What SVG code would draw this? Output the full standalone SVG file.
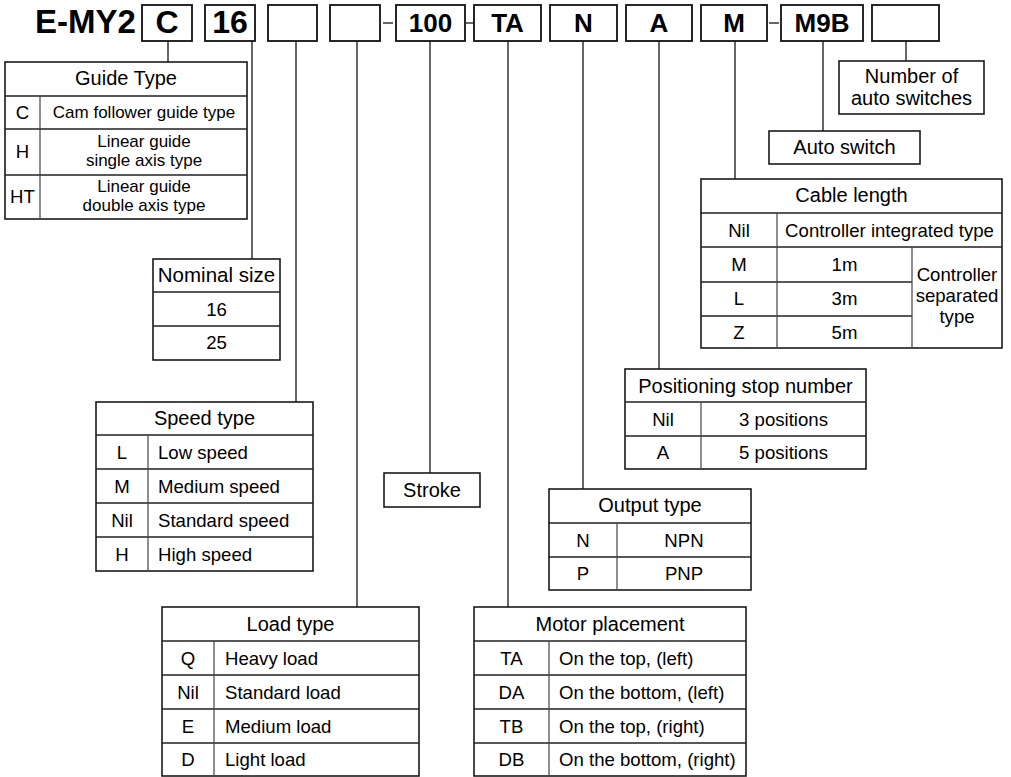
<svg xmlns="http://www.w3.org/2000/svg" width="1011" height="777" viewBox="0 0 1011 777">
<style>
text{font-family:"Liberation Sans",Arial,Helvetica,sans-serif;fill:#000}
.code{font-weight:bold;font-size:26px;text-anchor:middle}
.big{font-weight:bold;font-size:32px;text-anchor:middle}
.box{fill:#fff;stroke:#111;stroke-width:1.8}
.tb{fill:#fff;stroke:#1a1a1a;stroke-width:1.6}
.row{stroke:#222;stroke-width:1.4;fill:none}
.col{stroke:#444;stroke-width:1.2;fill:none}
.hd{font-size:20px;text-anchor:middle}
.b{font-size:18.6px}
.s{font-size:17px}
.c{text-anchor:middle}
.conn line{stroke:#333;stroke-width:1.5}
</style>
<rect width="1011" height="777" fill="#fff"/>

<g id="connectors" class="conn">
<line x1="168" y1="41" x2="168" y2="62"/>
<line x1="252" y1="41" x2="252" y2="259"/>
<line x1="296" y1="41" x2="296" y2="402"/>
<line x1="357" y1="41" x2="357" y2="607"/>
<line x1="430" y1="41" x2="430" y2="473"/>
<line x1="508" y1="41" x2="508" y2="607"/>
<line x1="583" y1="41" x2="583" y2="489"/>
<line x1="659" y1="41" x2="659" y2="369"/>
<line x1="735" y1="41" x2="735" y2="179"/>
<line x1="823" y1="41" x2="823" y2="131"/>
<line x1="906" y1="41" x2="906" y2="61"/>
<line x1="383" y1="23" x2="393" y2="23"/>
<line x1="466" y1="23" x2="474" y2="23"/>
<line x1="769" y1="23" x2="779" y2="23"/>
</g>

<g id="model">
<text x="35" y="33" style="font-weight:bold;font-size:33px">E-MY2</text>
</g>
<g id="box-c"><rect class="box" x="142" y="5" width="50" height="36"/><text class="big" x="167" y="33">C</text></g>
<g id="box-16"><rect class="box" x="205" y="5" width="50" height="36"/><text class="big" x="230" y="33">16</text></g>
<g id="box-speed"><rect class="box" x="268" y="5" width="49" height="36"/></g>
<g id="box-load"><rect class="box" x="330" y="5" width="50" height="36"/></g>
<g id="box-100"><rect class="box" x="396" y="5" width="69" height="36"/><text class="code" x="430.5" y="32">100</text></g>
<g id="box-ta"><rect class="box" x="474" y="5" width="67" height="36"/><text class="code" x="507.5" y="32">TA</text></g>
<g id="box-n"><rect class="box" x="550" y="5" width="67" height="36"/><text class="code" x="583.5" y="32">N</text></g>
<g id="box-a"><rect class="box" x="626" y="5" width="66" height="36"/><text class="code" x="659" y="32">A</text></g>
<g id="box-m"><rect class="box" x="701" y="5" width="66" height="36"/><text class="code" x="734" y="32">M</text></g>
<g id="box-m9b"><rect class="box" x="781" y="5" width="82" height="36"/><text class="code" x="822" y="32">M9B</text></g>
<g id="box-num"><rect class="box" x="872" y="5" width="67" height="36"/></g>

<g id="guide-type">
<rect class="tb" x="5" y="62" width="242" height="157"/>
<path class="row" d="M5 96H247M5 129H247M5 175H247"/>
<path class="col" d="M40 96V219"/>
<text class="hd" x="126" y="85">Guide Type</text>
<text class="b c" x="22.5" y="119">C</text>
<text class="s c" x="144" y="118">Cam follower guide type</text>
<text class="b c" x="22.5" y="158">H</text>
<text class="s c" x="144" y="146.5">Linear guide</text>
<text class="s c" x="144" y="165.5">single axis type</text>
<text class="b c" x="22.5" y="203">HT</text>
<text class="s c" x="144" y="191.5">Linear guide</text>
<text class="s c" x="144" y="210.5">double axis type</text>
</g>

<g id="nominal-size">
<rect class="tb" x="153" y="259" width="127" height="101"/>
<path class="row" d="M153 292H280M153 326H280"/>
<text class="hd" x="216.5" y="282" style="font-size:20.5px">Nominal size</text>
<text class="b c" x="216.5" y="315.5">16</text>
<text class="b c" x="216.5" y="349">25</text>
</g>

<g id="speed-type">
<rect class="tb" x="96" y="402" width="217" height="169"/>
<path class="row" d="M96 435H313M96 469H313M96 503H313M96 537H313"/>
<path class="col" d="M148 435V571"/>
<text class="hd" x="204.5" y="425">Speed type</text>
<text class="b c" x="122" y="458.5">L</text><text class="b" x="158" y="458.5">Low speed</text>
<text class="b c" x="122" y="492.5">M</text><text class="b" x="158" y="492.5">Medium speed</text>
<text class="b c" x="122" y="526.5">Nil</text><text class="b" x="158" y="526.5">Standard speed</text>
<text class="b c" x="122" y="560.5">H</text><text class="b" x="158" y="560.5">High speed</text>
</g>

<g id="stroke">
<rect class="tb" x="384" y="473" width="96" height="34"/>
<text class="hd" x="432" y="497">Stroke</text>
</g>

<g id="load-type">
<rect class="tb" x="162" y="607" width="257" height="169"/>
<path class="row" d="M162 641H419M162 675H419M162 709H419M162 743H419"/>
<path class="col" d="M214 641V776"/>
<text class="hd" x="290.5" y="631">Load type</text>
<text class="b c" x="188" y="664.5">Q</text><text class="b" x="225" y="664.5">Heavy load</text>
<text class="b c" x="188" y="698.5">Nil</text><text class="b" x="225" y="698.5">Standard load</text>
<text class="b c" x="188" y="732.5">E</text><text class="b" x="225" y="732.5">Medium load</text>
<text class="b c" x="188" y="766">D</text><text class="b" x="225" y="766">Light load</text>
</g>

<g id="motor-placement">
<rect class="tb" x="474" y="607" width="272" height="169"/>
<path class="row" d="M474 641H746M474 675H746M474 709H746M474 743H746"/>
<path class="col" d="M549 641V776"/>
<text class="hd" x="610" y="631">Motor placement</text>
<text class="b c" x="511.5" y="664.5">TA</text><text class="b" x="559" y="664.5">On the top, (left)</text>
<text class="b c" x="511.5" y="698.5">DA</text><text class="b" x="559" y="698.5">On the bottom, (left)</text>
<text class="b c" x="511.5" y="732.5">TB</text><text class="b" x="559" y="732.5">On the top, (right)</text>
<text class="b c" x="511.5" y="766">DB</text><text class="b" x="559" y="766">On the bottom, (right)</text>
</g>

<g id="output-type">
<rect class="tb" x="549" y="489" width="202" height="101"/>
<path class="row" d="M549 523H751M549 557H751"/>
<path class="col" d="M617 523V590"/>
<text class="hd" x="650" y="512">Output type</text>
<text class="b c" x="583" y="546.5">N</text><text class="b c" x="684" y="546.5">NPN</text>
<text class="b c" x="583" y="580">P</text><text class="b c" x="684" y="580">PNP</text>
</g>

<g id="positioning">
<rect class="tb" x="625" y="369" width="241" height="100"/>
<path class="row" d="M625 402H866M625 436H866"/>
<path class="col" d="M701 402V469"/>
<text class="hd" x="745.5" y="393">Positioning stop number</text>
<text class="b c" x="663" y="425.5">Nil</text><text class="b c" x="783.5" y="425.5">3 positions</text>
<text class="b c" x="663" y="459">A</text><text class="b c" x="783.5" y="459">5 positions</text>
</g>

<g id="cable-length">
<rect class="tb" x="701" y="179" width="301" height="169"/>
<path class="row" d="M701 213H1002M701 247H1002M701 282H912M701 316H912"/>
<path class="col" d="M777 213V348M912 247V348"/>
<text class="hd" x="851.5" y="202">Cable length</text>
<text class="b c" x="739" y="236.5">Nil</text><text class="b c" x="889.5" y="236.5">Controller integrated type</text>
<text class="b c" x="739" y="271">M</text><text class="b c" x="844.5" y="271">1m</text>
<text class="b c" x="739" y="305">L</text><text class="b c" x="844.5" y="305">3m</text>
<text class="b c" x="739" y="338.5">Z</text><text class="b c" x="844.5" y="338.5">5m</text>
<text class="b c" x="957" y="281">Controller</text>
<text class="b c" x="957" y="302">separated</text>
<text class="b c" x="957" y="323">type</text>
</g>

<g id="auto-switch">
<rect class="tb" x="769" y="131" width="151" height="33"/>
<text class="hd" x="844.5" y="154">Auto switch</text>
</g>

<g id="num-switches">
<rect class="tb" x="839" y="61" width="145" height="53"/>
<text class="hd" x="911.5" y="83">Number of</text>
<text class="hd" x="911.5" y="105">auto switches</text>
</g>
</svg>
